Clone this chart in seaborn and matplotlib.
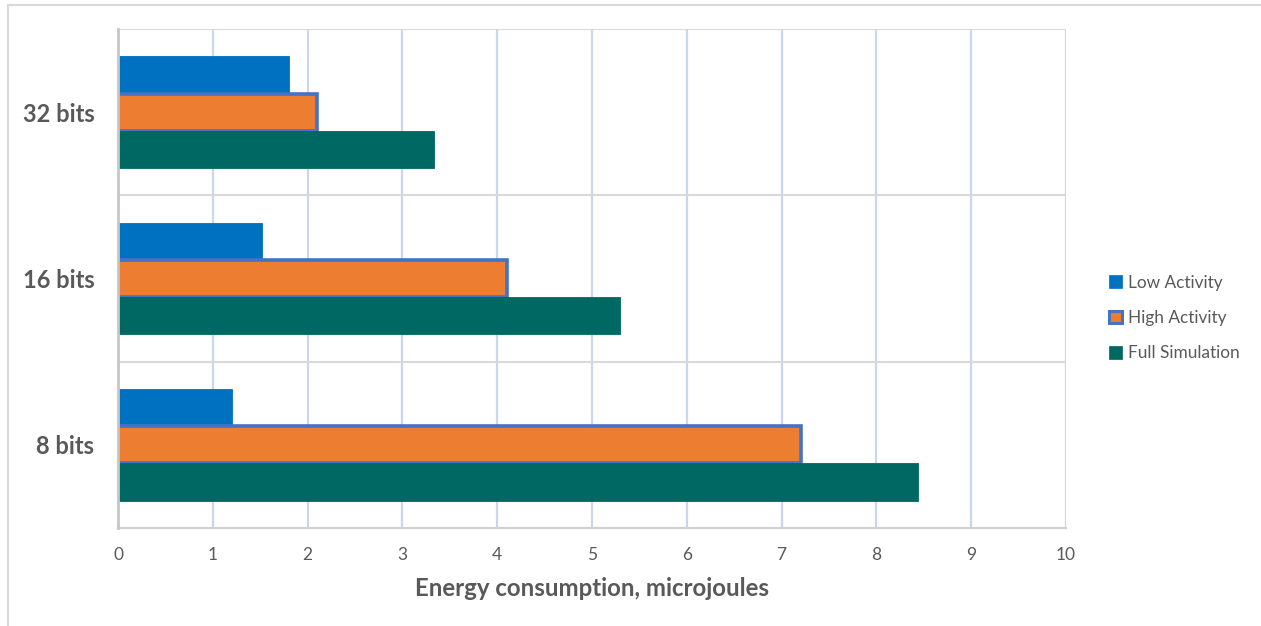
import matplotlib
matplotlib.use("Agg")
import matplotlib.pyplot as plt
from matplotlib.patches import Patch
from matplotlib.lines import Line2D
import pandas as pd
import seaborn as sns

# Energy per word width, microjoules
categories = ["32 bits", "16 bits", "8 bits"]
series_names = ["Low Activity", "High Activity", "Full Simulation"]
low_activity = [1.80, 1.52, 1.20]
high_activity = [2.10, 4.10, 7.20]
full_simulation = [3.33, 5.30, 8.44]
x_ticks = [0, 1, 2, 3, 4, 5, 6, 7, 8, 9, 10]
x_label = "Energy consumption, microjoules"

colors = ["#0070C0", "#ED7D31", "#006863"]
outline_blue = "#4472C4"
text_gray = "#595959"

df = pd.DataFrame({
    "width": categories * 3,
    "series": [s for s in series_names for _ in categories],
    "energy": low_activity + high_activity + full_simulation,
})

sns.set_theme(style="white")
plt.rcParams["font.family"] = ["Lato", "DejaVu Sans"]

fig = plt.figure(figsize=(12.61, 6.26), dpi=100)
ax = fig.add_axes([118 / 1261, 1 - 528 / 626, (1066 - 118) / 1261, (528 - 29) / 626])

sns.barplot(
    data=df, y="width", x="energy", hue="series",
    order=categories, hue_order=series_names, palette=colors,
    orient="h", width=0.67, gap=0, saturation=1, errorbar=None,
    legend=False, ax=ax, zorder=3,
)

# Outline on the High Activity bars, thin matching edges elsewhere
for container, name, col in zip(ax.containers, series_names, colors):
    for bar in container:
        if name == "High Activity":
            bar.set_edgecolor(outline_blue)
            bar.set_linewidth(2.6)
            bar.set_joinstyle("miter")
        else:
            bar.set_edgecolor(col)
            bar.set_linewidth(0.6)

ax.set_xlim(0, 10)
ax.set_ylim(2.5, -0.5)
ax.set_xticks(x_ticks)
ax.set_xticklabels([str(t) for t in x_ticks], fontsize=12.5, color=text_gray)
ax.tick_params(axis="x", length=0, pad=14)
ax.tick_params(axis="y", length=0, pad=17)
for lab in ax.get_yticklabels():
    lab.set_fontsize(17)
    lab.set_fontweight("bold")
    lab.set_color(text_gray)

ax.set_ylabel("")
ax.set_xlabel(x_label, fontsize=17.3, fontweight="bold", color=text_gray, labelpad=10)

# vertical value gridlines
for t in x_ticks[1:]:
    ax.axvline(t, color="#C9D6EE", linewidth=1.6, zorder=1)
# category separators
for y in [-0.5, 0.5, 1.5]:
    ax.axhline(y, color="#D9D9D9", linewidth=1.5, zorder=1)

for side in ["top", "right"]:
    ax.spines[side].set_visible(False)
ax.spines["left"].set_color("#C6C6C6")
ax.spines["left"].set_linewidth(2.0)
ax.spines["bottom"].set_color("#D0D0D0")
ax.spines["bottom"].set_linewidth(1.5)
ax.spines["left"].set_zorder(4)

handles = [
    Patch(facecolor=colors[0], edgecolor=colors[0], linewidth=0.5),
    Patch(facecolor=colors[1], edgecolor=outline_blue, linewidth=2.2),
    Patch(facecolor=colors[2], edgecolor=colors[2], linewidth=0.5),
]
leg = fig.legend(
    handles, series_names, loc="center left",
    bbox_to_anchor=(1102 / 1261, 1 - 318 / 626),
    frameon=False, fontsize=12.4, labelcolor=text_gray,
    handlelength=0.75, handleheight=0.75, handletextpad=0.35,
    labelspacing=1.12, borderaxespad=0,
)

# thin outer frame of the chart area
fig.add_artist(Line2D([8 / 1261, 1.0], [1 - 5 / 626, 1 - 5 / 626],
                      transform=fig.transFigure, color="#D9D9D9", linewidth=1.5))
fig.add_artist(Line2D([8 / 1261, 8 / 1261], [0.0, 1 - 5 / 626],
                      transform=fig.transFigure, color="#D9D9D9", linewidth=1.5))

fig.savefig("out.png", dpi=100, facecolor="white")
